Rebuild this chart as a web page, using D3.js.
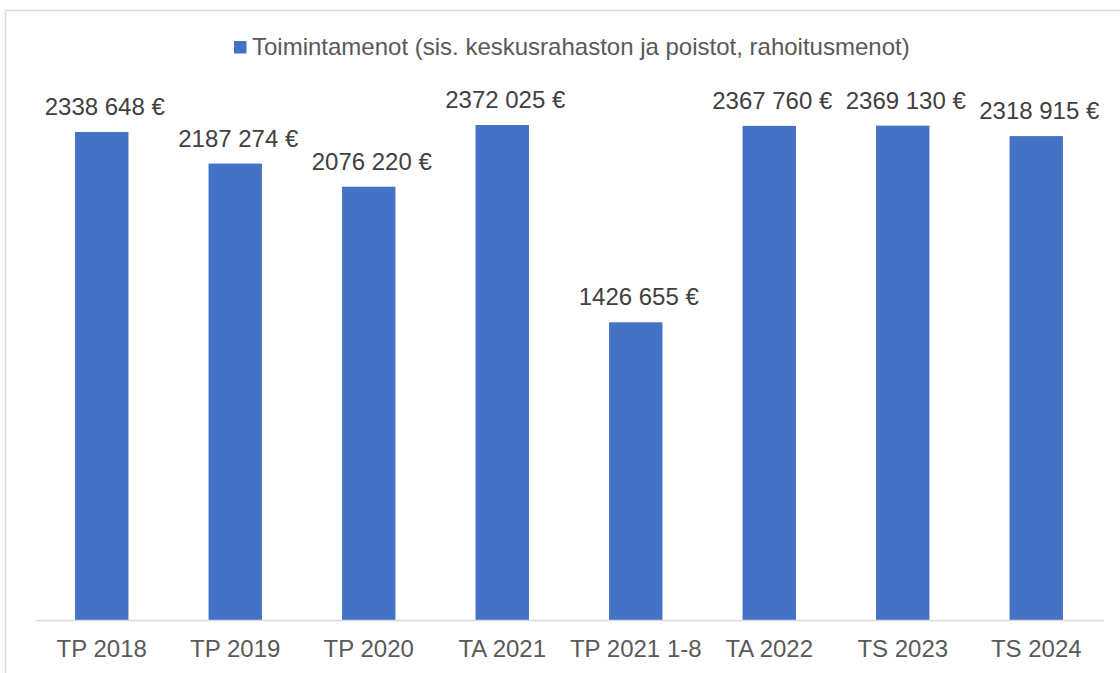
<!DOCTYPE html>
<html><head><meta charset="utf-8">
<script src="https://cdn.jsdelivr.net/npm/d3@7"></script>
<style>html,body{margin:0;padding:0;background:#fff;}svg{display:block;}</style>
</head><body>
<svg id="chart" width="1120" height="673"></svg>
<script>
const categories = ["TP 2018","TP 2019","TP 2020","TA 2021","TP 2021 1-8","TA 2022","TS 2023","TS 2024"];
const values = [2338648, 2187274, 2076220, 2372025, 1426655, 2367760, 2369130, 2318915];
const seriesName = "Toimintamenot (sis. keskusrahaston ja poistot, rahoitusmenot)";

const svg = d3.select("#chart");
const font = "'Liberation Sans', Arial, sans-serif";
const fs = 24;

svg.append("rect").attr("x",5.5).attr("y",10.5).attr("width",1130).attr("height",700)
  .attr("fill","#fff").attr("stroke","#d9d9d9").attr("stroke-width",1.5);

const x = d3.scaleBand().domain(categories).range([35,1103]).paddingInner(0.6).paddingOuter(0.3);
const y = d3.scaleLinear().domain([0,2500000]).range([620,98.3]);

const fmt = v => Math.floor(v/1000) + " " + d3.format("03d")(v % 1000) + " €";

svg.selectAll("rect.bar").data(values).enter().append("rect").attr("class","bar")
  .attr("x",(d,i)=>x(categories[i])).attr("width",x.bandwidth())
  .attr("y",d=>y(d)).attr("height",d=>y(0)-y(d)).attr("fill","#4472C4");

svg.selectAll("text.lbl").data(values).enter().append("text").attr("class","lbl")
  .attr("x",(d,i)=>x(categories[i])+x.bandwidth()/2+3).attr("y",d=>y(d)-17)
  .attr("text-anchor","middle").attr("font-family",font).attr("font-size",fs).attr("fill","#404040")
  .text(d=>fmt(d));

const xAxis = svg.append("g").attr("transform","translate(0,620)")
  .call(d3.axisBottom(x).tickSize(0).tickPadding(0).tickSizeOuter(0));
xAxis.select(".domain").attr("stroke","#d9d9d9").attr("stroke-width",1.5);
xAxis.selectAll("text").attr("font-family",font).attr("font-size",fs).attr("fill","#595959")
  .attr("dy",null).attr("y",37);

const leg = svg.append("g");
leg.append("rect").attr("x",234).attr("y",41).attr("width",12.5).attr("height",12.5).attr("fill","#4472C4");
leg.append("text").attr("x",252).attr("y",55).attr("font-family",font).attr("font-size",fs)
  .attr("fill","#595959").text(seriesName);
</script>
</body></html>
